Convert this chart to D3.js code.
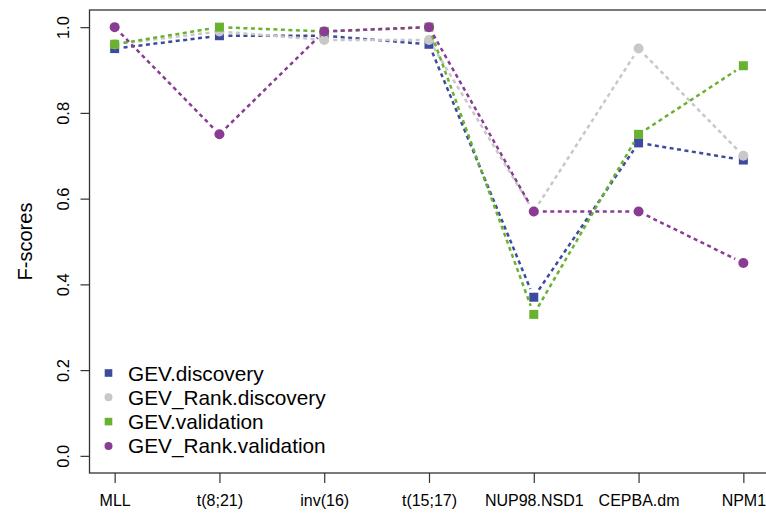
<!DOCTYPE html>
<html><head><meta charset="utf-8">
<script src="https://cdn.jsdelivr.net/npm/d3@7"></script>
<style>body{margin:0;background:#fff}svg{display:block}text{font-family:"Liberation Sans",Arial,Helvetica,sans-serif}</style>
</head><body><svg id="c" width="766" height="514"></svg>
<script>
const categories = ["MLL","t(8;21)","inv(16)","t(15;17)","NUP98.NSD1","CEPBA.dm","NPM1"];
const gevDiscovery      = [0.95,0.98,0.98,0.96,0.37,0.73,0.69];
const gevRankDiscovery  = [0.96,0.99,0.97,0.97,0.57,0.95,0.70];
const gevValidation     = [0.96,1.00,0.99,1.00,0.33,0.75,0.91];
const gevRankValidation = [1.00,0.75,0.99,1.00,0.57,0.57,0.45];
const yTicks = [0.0,0.2,0.4,0.6,0.8,1.0];
const seriesNames = ["GEV.discovery","GEV_Rank.discovery","GEV.validation","GEV_Rank.validation"];

const series = [
  {name:seriesNames[0], values:gevDiscovery, color:"#3d4b9f", shape:"square"},
  {name:seriesNames[1], values:gevRankDiscovery, color:"#c8c8c8", shape:"circle"},
  {name:seriesNames[2], values:gevValidation, color:"#69b22f", shape:"square"},
  {name:seriesNames[3], values:gevRankValidation, color:"#8a3c95", shape:"circle"}
];

const svg = d3.select("#c");
const L=89.5, R=768.5, T=10, B=473;
const x = d3.scaleLinear().domain([0.76, categories.length+0.24]).range([L,R]);
const y = d3.scaleLinear().domain([-0.04,1.04]).range([B,T]);

// box
svg.append("rect").attr("x",L).attr("y",T).attr("width",R-L).attr("height",B-T)
  .attr("fill","none").attr("stroke","#333").attr("stroke-width",1.3);

// y axis
const yAxis = d3.axisLeft(y).tickValues(yTicks).tickFormat(d3.format(".1f")).tickSize(9).tickPadding(0);
const gy = svg.append("g").attr("transform",`translate(${L},0)`).call(yAxis);
gy.select(".domain").remove();
gy.selectAll(".tick line").attr("stroke","#333").attr("stroke-width",1.2);
gy.selectAll(".tick text").attr("font-size",16.5).attr("fill","#000")
  .attr("text-anchor","middle").attr("x",0).attr("dy",0)
  .attr("transform","translate(-21,0) rotate(-90)");

// x axis
const xAxis = d3.axisBottom(x).tickValues(d3.range(1,categories.length+1))
  .tickFormat(d=>categories[d-1]).tickSize(10).tickPadding(0);
const gx = svg.append("g").attr("transform",`translate(0,${B})`).call(xAxis);
gx.select(".domain").remove();
gx.selectAll(".tick line").attr("stroke","#333").attr("stroke-width",1.2);
gx.selectAll(".tick text").attr("font-size",16).attr("fill","#000").attr("y",33).attr("dy",0);

// y label
svg.append("text").attr("transform",`translate(32,${(T+B)/2}) rotate(-90)`)
  .attr("text-anchor","middle").attr("font-size",20).text("F-scores");

// series
const gap = 9;
series.forEach(s=>{
  const g = svg.append("g");
  const pts = s.values.map((v,i)=>[x(i+1), y(v)]);
  for(let i=0;i<pts.length-1;i++){
    const [x1,y1]=pts[i],[x2,y2]=pts[i+1];
    const dx=x2-x1, dy=y2-y1, len=Math.hypot(dx,dy);
    if(len<=2*gap) continue;
    const ux=dx/len, uy=dy/len;
    g.append("line").attr("x1",x1+ux*gap).attr("y1",y1+uy*gap)
      .attr("x2",x2-ux*gap).attr("y2",y2-uy*gap)
      .attr("stroke",s.color).attr("stroke-width",2.5).attr("stroke-dasharray","4,3.5");
  }
  pts.forEach(([px,py])=>{
    if(s.shape==="square") g.append("rect").attr("x",px-4.5).attr("y",py-4.5).attr("width",9).attr("height",9).attr("fill",s.color);
    else g.append("circle").attr("cx",px).attr("cy",py).attr("r",5).attr("fill",s.color);
  });
});

// legend
const lg = svg.append("g");
series.forEach((s,i)=>{
  const cy = 373 + i*24.3;
  if(s.shape==="square") lg.append("rect").attr("x",108.5-3.8).attr("y",cy-3.8).attr("width",7.6).attr("height",7.6).attr("fill",s.color);
  else lg.append("circle").attr("cx",108.5).attr("cy",cy).attr("r",4).attr("fill",s.color);
  lg.append("text").attr("x",128).attr("y",cy+7.5).attr("font-size",20.8).attr("fill","#000").text(s.name);
});
</script></body></html>
